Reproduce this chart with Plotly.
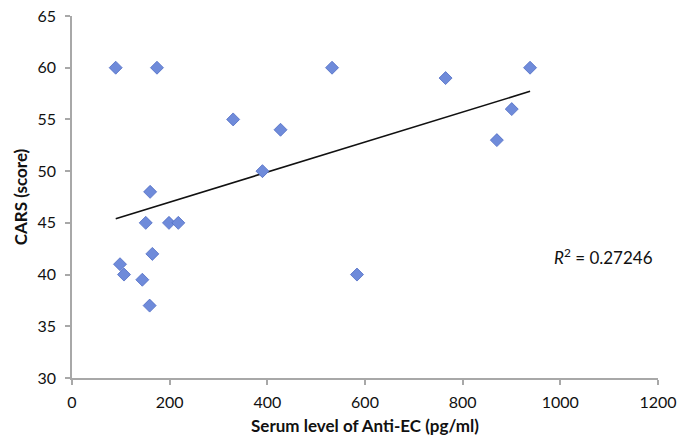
import numpy as np
import plotly.graph_objects as go

# Serum anti-EC level (pg/ml) and CARS score per subject
anti_ec = [89.5, 174, 330, 160, 151, 198.6, 217.7, 164.5, 98.3, 106.5,
           144, 159, 532.5, 765, 427, 390, 870, 938, 900.5, 583.6]
cars = [60, 60, 55, 48, 45, 45, 45, 42, 41, 40,
        39.5, 37, 60, 59, 54, 50, 53, 60, 56, 40]

x_ticks = [0, 200, 400, 600, 800, 1000, 1200]
y_ticks = [30, 35, 40, 45, 50, 55, 60, 65]
r2_label = "<i>R</i><sup>2</sup> = 0.27246"

# Least-squares linear trend across the observed range
slope, intercept = np.polyfit(anti_ec, cars, 1)
x_fit = np.array([min(anti_ec), max(anti_ec)])
y_fit = slope * x_fit + intercept

fig = go.Figure()
fig.add_trace(go.Scatter(
    x=x_fit, y=y_fit, mode="lines",
    line=dict(color="#111111", width=1.6),
    hoverinfo="skip", showlegend=False,
))
fig.add_trace(go.Scatter(
    x=anti_ec, y=cars, mode="markers",
    marker=dict(symbol="diamond", size=10, color="#6F8BDA",
                line=dict(color="#4F6CC4", width=0.8)),
    showlegend=False,
))

fig.add_annotation(
    x=983, y=41.7, xref="x", yref="y", text=r2_label, showarrow=False,
    xanchor="left", yanchor="middle",
    font=dict(family="Lato, Arial, sans-serif", size=17, color="#111111"),
)

axis_font = dict(family="Lato, Arial, sans-serif", size=16, color="#111111")
title_font = dict(family="Lato, Arial, sans-serif", size=17, color="#111111")

fig.update_layout(
    width=689, height=439,
    margin=dict(l=72, r=31, t=16, b=61),
    paper_bgcolor="white", plot_bgcolor="white",
    xaxis=dict(
        range=[0, 1200], tickvals=x_ticks, showgrid=False, zeroline=False,
        showline=True, linecolor="#A8A8A8", linewidth=1.5,
        ticks="outside", ticklen=5, tickcolor="#A8A8A8", tickwidth=1.5,
        tickfont=axis_font, ticklabelstandoff=4, automargin=False,
        title=dict(text="<b>Serum level of Anti-EC (pg/ml)</b>", font=title_font, standoff=10),
    ),
    yaxis=dict(
        range=[30, 65], tickvals=y_ticks, showgrid=False, zeroline=False,
        showline=True, linecolor="#A8A8A8", linewidth=1.5,
        ticks="outside", ticklen=5, tickcolor="#A8A8A8", tickwidth=1.5,
        tickfont=axis_font, ticklabelstandoff=6, automargin=False,
        title=dict(text="<b>CARS (score)</b>", font=title_font, standoff=6),
    ),
)

fig.write_html("out.html")
